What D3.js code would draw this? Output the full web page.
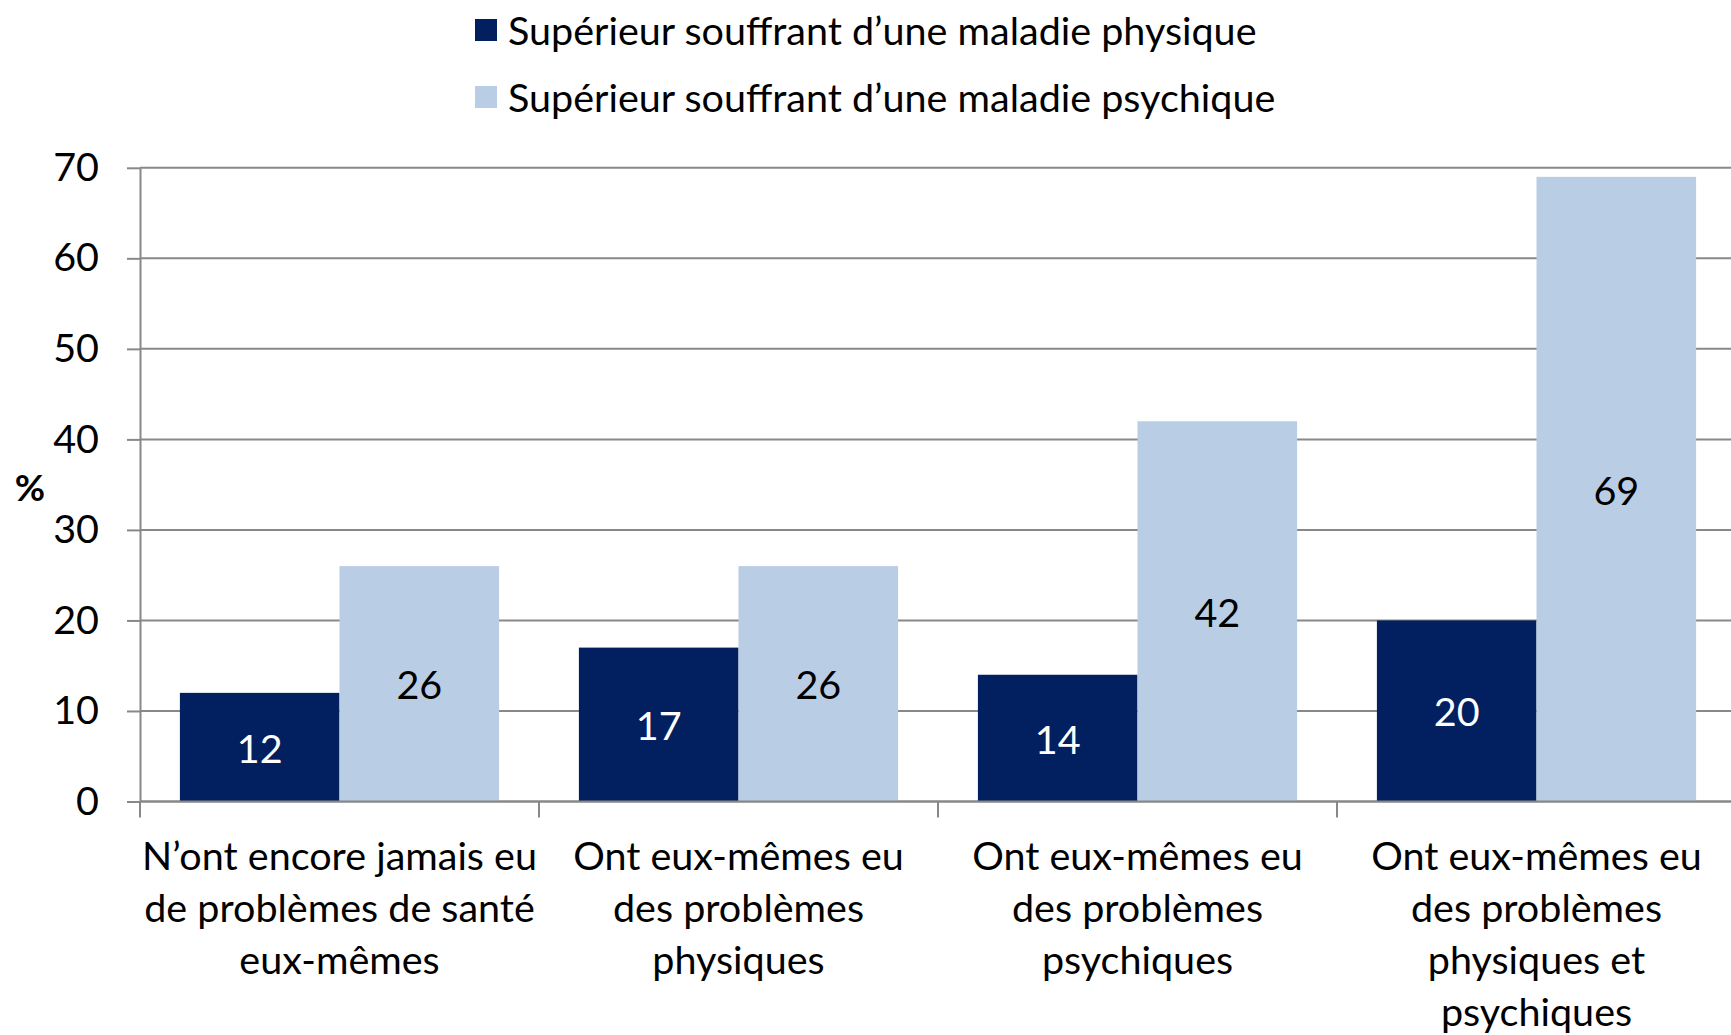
<!DOCTYPE html>
<html>
<head>
<meta charset="utf-8">
<script src="https://cdn.jsdelivr.net/npm/d3@7"></script>
<style>
  html, body { margin: 0; padding: 0; background: #fff; }
  svg text { font-family: Lato, "Open Sans", sans-serif; fill: #000; }
</style>
</head>
<body>
<div id="chart"></div>
<script>
// categories, one entry per group; each label split into its lines
const categories = [
  ["N’ont encore jamais eu", "de problèmes de santé", "eux-mêmes"],
  ["Ont eux-mêmes eu", "des problèmes", "physiques"],
  ["Ont eux-mêmes eu", "des problèmes", "psychiques"],
  ["Ont eux-mêmes eu", "des problèmes", "physiques et", "psychiques"]
];
const seriesNames = [
  "Supérieur souffrant d’une maladie physique",
  "Supérieur souffrant d’une maladie psychique"
];
const physique = [12, 17, 14, 20];
const psychique = [26, 26, 42, 69];
const yTicks = [0, 10, 20, 30, 40, 50, 60, 70];
const colors = ["#02205f", "#b9cde5"];
const labelColors = ["#fff", "#000"];

const width = 1731, height = 1035;
const plotLeft = 140, plotRight = 1736, plotTop = 167.8, plotBottom = 801.5;
const fontSize = 39.5;

const svg = d3.select("#chart")
  .append("svg")
  .attr("width", width)
  .attr("height", height);

const x = d3.scaleBand()
  .domain(d3.range(categories.length))
  .range([plotLeft, plotRight])
  .paddingInner(0.2)
  .paddingOuter(0.1);

const xSub = d3.scaleBand()
  .domain([0, 1])
  .range([0, x.bandwidth()]);

const y = d3.scaleLinear()
  .domain([0, 70])
  .range([plotBottom, plotTop]);

// gridlines
svg.append("g")
  .selectAll("line")
  .data(yTicks)
  .join("line")
  .attr("x1", plotLeft)
  .attr("x2", width)
  .attr("y1", (d) => y(d))
  .attr("y2", (d) => y(d))
  .attr("stroke", "#888")
  .attr("stroke-width", 2);

// y axis
const yAxis = svg.append("g")
  .attr("transform", `translate(${plotLeft},0)`)
  .call(d3.axisLeft(y).tickValues(yTicks).tickSize(13).tickPadding(28).tickSizeOuter(0));
yAxis.select(".domain").attr("stroke", "#888").attr("stroke-width", 2);
yAxis.selectAll(".tick line").attr("stroke", "#888").attr("stroke-width", 2);
yAxis.selectAll(".tick text")
  .style("font-size", fontSize + "px")
  .attr("fill", "#000");

svg.append("text")
  .attr("x", 30)
  .attr("y", 486)
  .attr("text-anchor", "middle")
  .attr("dominant-baseline", "central")
  .style("font-size", "37px")
  .style("font-weight", "bold")
  .text("%");

// bars
const rows = categories.map((c, i) => [physique[i], psychique[i]]);
const groups = svg.append("g")
  .selectAll("g")
  .data(rows)
  .join("g")
  .attr("transform", (d, i) => `translate(${x(i)},0)`);

groups.selectAll("rect")
  .data((d) => d)
  .join("rect")
  .attr("x", (d, j) => xSub(j))
  .attr("y", (d) => y(d))
  .attr("width", xSub.bandwidth())
  .attr("height", (d) => y(0) - y(d))
  .attr("fill", (d, j) => colors[j]);

groups.selectAll("text")
  .data((d) => d)
  .join("text")
  .attr("x", (d, j) => xSub(j) + xSub.bandwidth() / 2)
  .attr("y", (d) => (y(d) + y(0)) / 2)
  .attr("text-anchor", "middle")
  .attr("dominant-baseline", "central")
  .style("font-size", fontSize + "px")
  .style("fill", (d, j) => labelColors[j])
  .text((d) => d);

// x axis line and ticks
svg.append("line")
  .attr("x1", plotLeft)
  .attr("x2", width)
  .attr("y1", y(0))
  .attr("y2", y(0))
  .attr("stroke", "#888")
  .attr("stroke-width", 2);
svg.append("g")
  .selectAll("line")
  .data(d3.range(categories.length))
  .join("line")
  .attr("x1", (i) => x(i) - x.step() * x.paddingOuter())
  .attr("x2", (i) => x(i) - x.step() * x.paddingOuter())
  .attr("y1", y(0))
  .attr("y2", y(0) + 16)
  .attr("stroke", "#888")
  .attr("stroke-width", 2);

// category labels
const catLabels = svg.append("g")
  .selectAll("text")
  .data(categories)
  .join("text")
  .attr("text-anchor", "middle")
  .style("font-size", fontSize + "px");
catLabels.selectAll("tspan")
  .data((d, i) => d.map((line) => ({ line, i })))
  .join("tspan")
  .attr("x", (d) => x(d.i) + x.bandwidth() / 2)
  .attr("y", (d, k) => 854.5 + k * 52)
  .attr("dominant-baseline", "central")
  .text((d) => d.line);

// legend
const legend = svg.append("g")
  .selectAll("g")
  .data(seriesNames)
  .join("g")
  .attr("transform", (d, i) => `translate(475,${30 + i * 67})`);
legend.append("rect")
  .attr("x", 0)
  .attr("y", -11)
  .attr("width", 22)
  .attr("height", 22)
  .attr("fill", (d, i) => colors[i]);
legend.append("text")
  .attr("x", 33)
  .attr("y", -1)
  .attr("dominant-baseline", "central")
  .style("font-size", fontSize + "px")
  .text((d) => d);
</script>
</body>
</html>
